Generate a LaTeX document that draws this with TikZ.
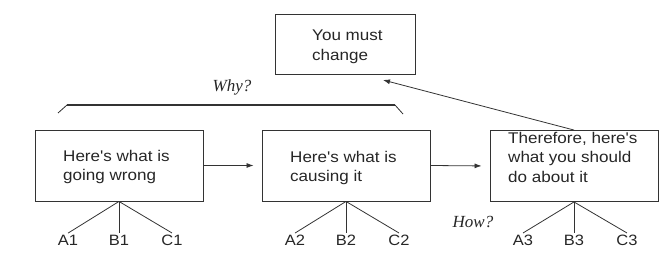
\documentclass[tikz,border=0pt]{standalone}
\usepackage{fontspec}
\setmainfont{Liberation Sans}
\newfontfamily\boxfont[FakeStretch=1.1]{Liberation Sans}
\newfontfamily\askfont{Liberation Serif}
\usetikzlibrary{arrows.meta}
\begin{document}
\begin{tikzpicture}[x=1pt,y=-1pt,
  ink/.style={draw=black!80},
  box/.style={ink, line width=0.9pt, minimum width=168pt, minimum height=71pt, inner sep=0pt},
  topbox/.style={ink, line width=0.9pt, minimum width=140pt, minimum height=60pt, inner sep=0pt},
  txt/.style={font=\boxfont\fontsize{15.5}{19.5}\selectfont, align=left, anchor=west, inner sep=0pt, text=black!85},
  lbl/.style={font=\boxfont\fontsize{15}{18}\selectfont, inner sep=1.5pt, text=black!85},
  ask/.style={font=\askfont\itshape\fontsize{17}{20}\selectfont, inner sep=0pt, text=black!85},
  link/.style={ink, line width=0.8pt},
  flow/.style={ink, line width=0.8pt, -{Latex[length=7pt,width=5pt]}},
]
\useasboundingbox (0,0) rectangle (667,264);

% the three stages and the conclusion
\node[topbox] (goal) at (345,44) {};
\node[txt] (goaltxt) at (312,47) {You must\\change};

\node[box] (b1) at (119,165.5) {};
\node[txt] (t1) at (63,167) {Here's what is\\going wrong};

\node[box] (b2) at (346,165.5) {};
\node[txt] (t2) at (290,168) {Here's what is\\causing it};

\node[box] (b3) at (574,166) {};
\node[txt] (t3) at (508,157) {Therefore, here's\\what you should\\do about it};

% flow between stages
\draw[flow, shorten >=8pt] (b1.east) -- (b2.west);
\draw[flow, shorten >=8pt] (b2.east) -- (b3.west);
\coordinate (tip) at (383,80);
\draw[flow] (b3.north) -- (tip);

% bracket over the first two stages
\coordinate (brL) at (67,105);
\coordinate (brR) at (395,105);
\coordinate (tkL) at (58,113);
\coordinate (tkR) at (403,114);
\draw[ink, line width=2.2pt] (brL) -- (brR);
\draw[link] (tkL) -- (brL);
\draw[link] (brR) -- (tkR);
\node[ask] (why) at (232,87) {Why?};
\node[ask] (how) at (473,222) {How?};

% supporting points under each stage
\foreach \b/\x/\n in {b1/119/1, b2/346/2, b3/574/3}{
  \node[lbl] (A\n) at (\x-51,240) {A\n};
  \node[lbl] (B\n) at (\x,240) {B\n};
  \node[lbl] (C\n) at (\x+53,240) {C\n};
  \draw[link] (\b.south) -- (A\n.north);
  \draw[link] (\b.south) -- (B\n.north);
  \draw[link] (\b.south) -- (C\n.north);
}
\end{tikzpicture}
\end{document}
